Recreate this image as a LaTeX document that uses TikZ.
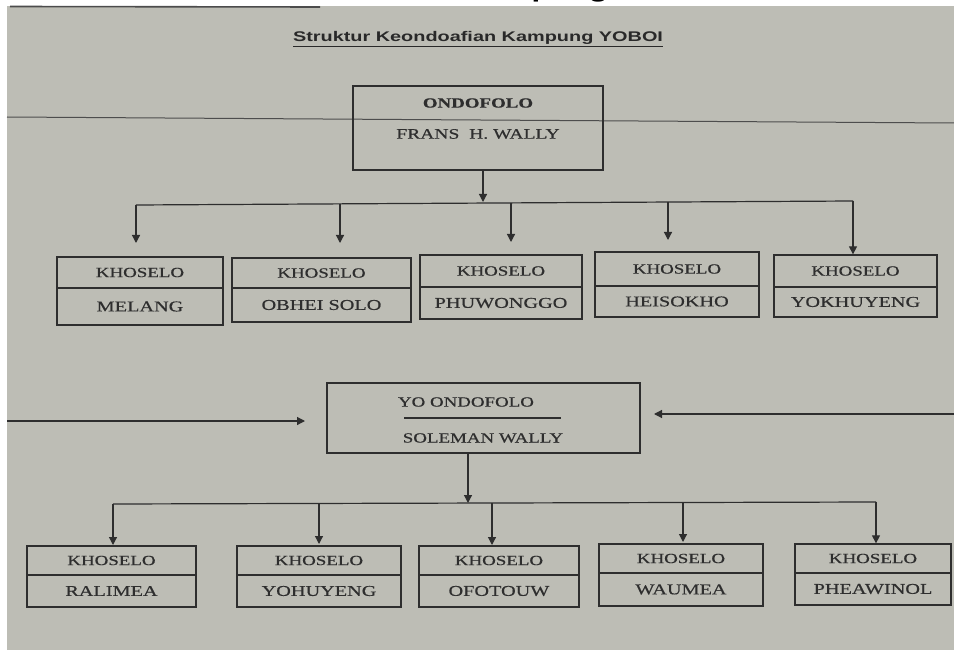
\documentclass[tikz,border=0pt]{standalone}
\usepackage{fontspec}
\setmainfont{Liberation Serif}[FakeStretch=1.35,FakeBold=0.5]
\newfontfamily\titlefont{Liberation Sans}[FakeStretch=1.42]
\usetikzlibrary{arrows.meta}
\definecolor{paper}{HTML}{BDBDB5}
\definecolor{ink}{HTML}{2E2E2E}
\tikzset{
  boxnode/.style={draw=ink, line width=1.3pt, rectangle, inner sep=0pt},
  divline/.style={draw=ink, line width=1.2pt},
  conn/.style={draw=ink, line width=1.2pt},
  arr/.style={conn, -{Triangle[width=8pt,length=8pt]}},
  khtext/.style={text=ink, font=\fontsize{14}{14}\selectfont, inner sep=0pt},
  nametext/.style={text=ink, font=\fontsize{15}{15}\selectfont, inner sep=0pt},
  chiefname/.style={text=ink, font=\fontsize{14}{14}\selectfont, inner sep=0pt},
}
% #1 name, #2 x1, #3 y1, #4 x2, #5 y2, #6 divider y, #7 name text
\newcommand\kbox[7]{%
  \node[boxnode, minimum width={(#4-#2)*1pt}, minimum height={(#5-#3)*1pt}] (#1) at ({(#2+#4)/2},{(#3+#5)/2}) {};
  \coordinate (#1-d) at (0,#6);
  \draw[divline] (#1.west |- #1-d) -- (#1.east |- #1-d);
  \node[khtext] (#1-t) at ({(#2+#4)/2},{(#3+#6)/2}) {KHOSELO};
  \node[nametext] (#1-n) at ({(#2+#4)/2},{(#6+#5)/2}) {#7};
}
\begin{document}
\begin{tikzpicture}[x=1pt,y=-1pt]
\useasboundingbox (0,0) rectangle (954,650);
\fill[white] (0,0) rectangle (954,650);
\fill[paper] (7,6) rectangle (954,650);
\draw[color=black!70, line width=1.6pt] (10,6.5) -- (320,7);
% clipped heading fragment above the sheet
\begin{scope}
  \clip (0,0) rectangle (954,6);
  \node[anchor=base, inner sep=0pt, text=black, font=\titlefont\bfseries\fontsize{22}{22}\selectfont] (hdr) at (536,-2.5) {Kampung};
\end{scope}
% title
\node[anchor=base, inner sep=0pt, text=ink!90!black, font=\titlefont\bfseries\fontsize{14}{14}\selectfont] (title) at (478,42) {\underline{Struktur Keondoafian Kampung YOBOI}};
% long horizontal line
\coordinate (hl1) at (7,117);
\coordinate (hl2) at (954,123);
\draw[conn, line width=1pt, draw=ink!85] (hl1) -- (hl2);
% ONDOFOLO
\node[boxnode, minimum width=250pt, minimum height=84pt] (ondo) at (478,128) {};
\node[text=ink, inner sep=0pt, font=\bfseries\fontsize{14}{14}\selectfont] (ondo-t) at (478,103) {ONDOFOLO};
\node[chiefname, font=\fontsize{14.5}{14.5}\selectfont] (ondo-n) at (478,134) {FRANS\ \ H. WALLY};
% top tier
\kbox{b1}{57}{257}{223}{325}{288}{MELANG}
\kbox{b2}{232}{258}{411}{322}{288}{OBHEI SOLO}
\kbox{b3}{420}{255}{582}{319}{287}{PHUWONGGO}
\kbox{b4}{595}{252}{759}{317}{286}{HEISOKHO}
\kbox{b5}{774}{255}{937}{317}{287}{YOKHUYENG}
\coordinate (os) at (483,170);
\coordinate (ot) at (483,202);
\draw[arr] (os) -- (ot);
\coordinate (d1) at (136,205);
\coordinate (d2) at (340,204);
\coordinate (d3) at (511,203);
\coordinate (d4) at (668,202);
\coordinate (d5) at (853,201);
\draw[conn] (d1) -- (d5);
\coordinate (t1) at (136,243);
\coordinate (t2) at (340,243);
\coordinate (t3) at (511,242);
\coordinate (t4) at (668,240);
\draw[arr] (d1) -- (t1);
\draw[arr] (d2) -- (t2);
\draw[arr] (d3) -- (t3);
\draw[arr] (d4) -- (t4);
\draw[arr] (d5) -- (d5 |- b5.north);
% YO ONDOFOLO
\node[boxnode, minimum width=313pt, minimum height=70pt] (yo) at (483.5,418) {};
\node[chiefname] (yo-t) at (466,402) {YO ONDOFOLO};
\coordinate (yd1) at (404,418);
\coordinate (yd2) at (561,418);
\draw[divline, line width=1.6pt] (yd1) -- (yd2);
\node[chiefname] (yo-n) at (483,438) {SOLEMAN WALLY};
\coordinate (la) at (7,421);
\coordinate (lt) at (305,421);
\draw[arr] (la) -- (lt);
\coordinate (ra) at (954,414);
\coordinate (rt) at (654,414);
\draw[arr] (ra) -- (rt);
% bottom tier
\kbox{c1}{27}{546}{196}{607}{575}{RALIMEA}
\kbox{c2}{237}{546}{401}{607}{575}{YOHUYENG}
\kbox{c3}{419}{546}{579}{607}{575}{OFOTOUW}
\kbox{c4}{599}{544}{763}{606}{573}{WAUMEA}
\kbox{c5}{795}{544}{951}{605}{573}{PHEAWINOL}
\coordinate (ys) at (468,453);
\coordinate (yt) at (468,503);
\draw[arr] (ys) -- (yt);
\coordinate (e1) at (113,504);
\coordinate (e2) at (319,504);
\coordinate (e3) at (492,503);
\coordinate (e4) at (683,503);
\coordinate (e5) at (876,502);
\draw[conn] (e1) -- (e5);
\coordinate (u1) at (113,545);
\coordinate (u2) at (319,544);
\coordinate (u3) at (492,545);
\coordinate (u4) at (683,542);
\draw[arr] (e1) -- (u1);
\draw[arr] (e2) -- (u2);
\draw[arr] (e3) -- (u3);
\draw[arr] (e4) -- (u4);
\draw[arr] (e5) -- (e5 |- c5.north);
\end{tikzpicture}
\end{document}
